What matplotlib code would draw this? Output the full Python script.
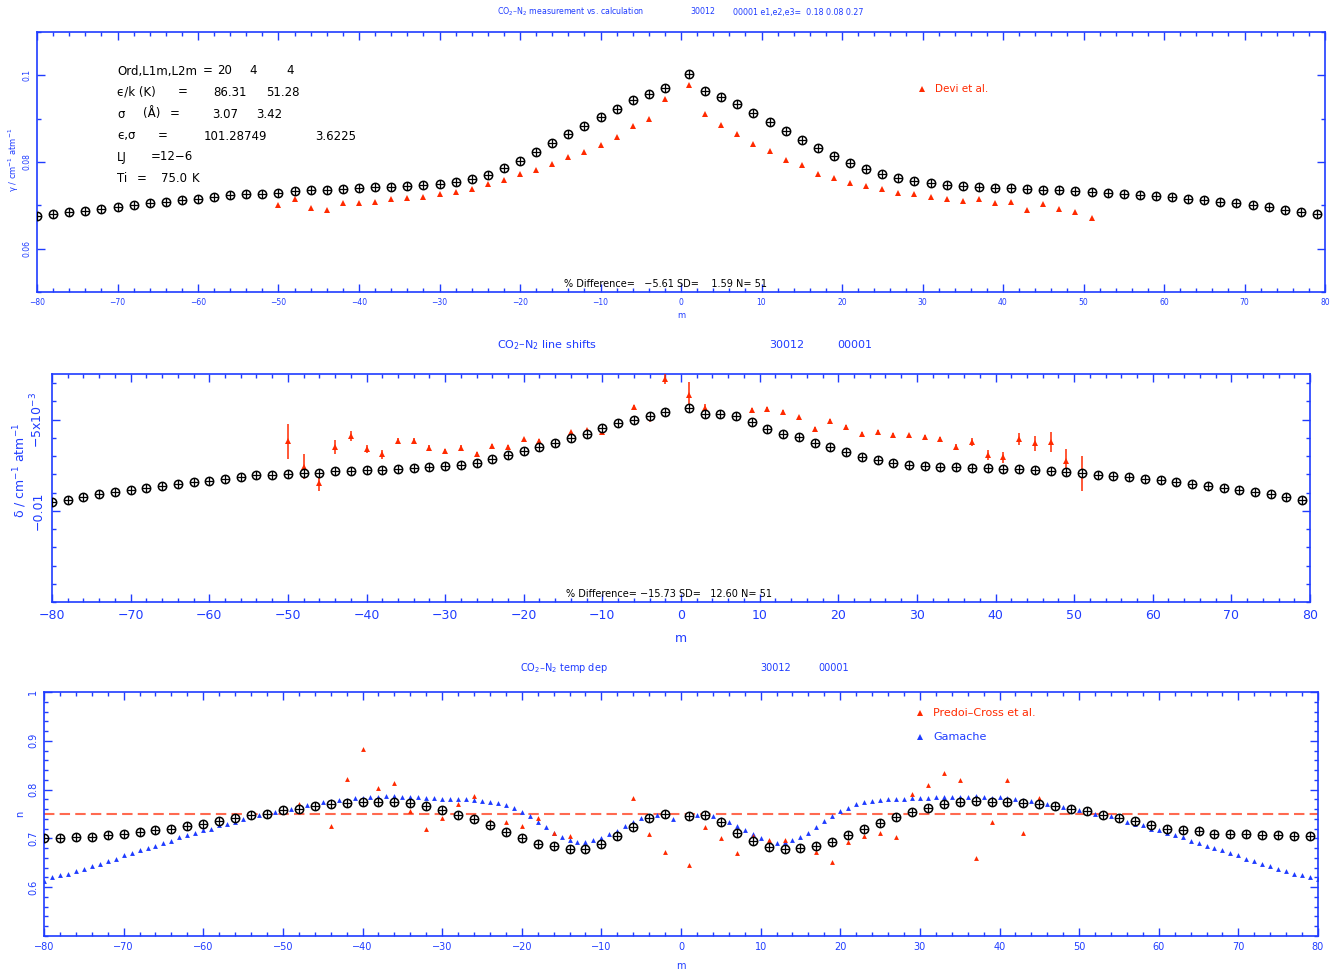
import matplotlib
matplotlib.use("Agg")
import matplotlib.pyplot as plt
from matplotlib.ticker import MultipleLocator, FixedLocator, FuncFormatter
import numpy as np

# rotational index m: P branch even (-80..-2), R branch odd (1..79)
m_P = np.arange(-80, 0, 2)
m_R = np.arange(1, 80, 2)
m_calc = np.concatenate([m_P, m_R])
m_meas = np.concatenate([np.arange(-50, 0, 2), np.arange(1, 52, 2)])
m_gam = np.concatenate([np.arange(-80, 0), np.arange(1, 81)])

### 1. widths (gamma)
gamma_calc = [
    0.06755, 0.06795, 0.06841, 0.06871, 0.06910, 0.06963, 0.07009, 0.07048, 0.07088, 0.07118,
    0.07148, 0.07194, 0.07233, 0.07256, 0.07272, 0.07295, 0.07325, 0.07348, 0.07364, 0.07378,
    0.07401, 0.07424, 0.07434, 0.07441, 0.07464, 0.07498, 0.07544, 0.07614, 0.07706, 0.07856,
    0.08017, 0.08225, 0.08433, 0.08640, 0.08825, 0.09039, 0.09233, 0.09424, 0.09563, 0.09708,
    0.10040, 0.09632, 0.09501, 0.09332, 0.09131, 0.08924, 0.08716, 0.08518, 0.08333, 0.08140,
    0.07978, 0.07840, 0.07734, 0.07632, 0.07563, 0.07517, 0.07480, 0.07448, 0.07424, 0.07401,
    0.07394, 0.07378, 0.07364, 0.07348, 0.07325, 0.07302, 0.07279, 0.07256, 0.07233, 0.07210,
    0.07187, 0.07152, 0.07118, 0.07083, 0.07048, 0.07002, 0.06956, 0.06898, 0.06841, 0.06795]
gamma_devi = [
    0.07018, 0.07157, 0.06940, 0.06887, 0.07055, 0.07055, 0.07078, 0.07157, 0.07164, 0.07187,
    0.07256, 0.07302, 0.07371, 0.07487, 0.07579, 0.07717, 0.07810, 0.07948, 0.08110, 0.08225,
    0.08386, 0.08578, 0.08841, 0.09002, 0.09464,
    0.09770, 0.09102, 0.08848, 0.08656, 0.08416, 0.08264, 0.08057, 0.07925, 0.07734, 0.07632,
    0.07526, 0.07448, 0.07371, 0.07286, 0.07256, 0.07187, 0.07148, 0.07111, 0.07148, 0.07055,
    0.07071, 0.06887, 0.07025, 0.06910, 0.06841, 0.06702]

### 2. shifts (delta)
delta_calc = [
    -0.00951, -0.00940, -0.00924, -0.00910, -0.00898, -0.00887, -0.00877, -0.00865, -0.00852, -0.00843,
    -0.00834, -0.00825, -0.00815, -0.00804, -0.00801, -0.00797, -0.00793, -0.00792, -0.00784, -0.00781,
    -0.00775, -0.00775, -0.00772, -0.00764, -0.00759, -0.00753, -0.00748, -0.00739, -0.00718, -0.00696,
    -0.00671, -0.00651, -0.00630, -0.00600, -0.00579, -0.00548, -0.00521, -0.00503, -0.00481, -0.00457,
    -0.00438, -0.00468, -0.00470, -0.00482, -0.00512, -0.00550, -0.00578, -0.00596, -0.00630, -0.00652,
    -0.00677, -0.00706, -0.00724, -0.00740, -0.00748, -0.00757, -0.00759, -0.00762, -0.00764, -0.00768,
    -0.00770, -0.00773, -0.00777, -0.00781, -0.00790, -0.00795, -0.00801, -0.00807, -0.00815, -0.00824,
    -0.00832, -0.00843, -0.00851, -0.00862, -0.00873, -0.00884, -0.00895, -0.00909, -0.00925, -0.00942]
delta_meas = [
    -0.00618, -0.00759, -0.00850, -0.00649, -0.00589, -0.00662, -0.00691, -0.00616, -0.00616, -0.00655,
    -0.00674, -0.00656, -0.00691, -0.00647, -0.00649, -0.00607, -0.00616, -0.00627, -0.00568, -0.00559,
    -0.00570, -0.00517, -0.00433, -0.00488, -0.00277,
    -0.00365, -0.00438, -0.00470, -0.00484, -0.00448, -0.00442, -0.00460, -0.00488, -0.00552, -0.00506,
    -0.00539, -0.00579, -0.00568, -0.00583, -0.00587, -0.00597, -0.00608, -0.00649, -0.00622, -0.00695,
    -0.00707, -0.00607, -0.00630, -0.00622, -0.00726, -0.00795]
delta_err = [
    0.00096, 0.00068, 0.00040, 0.00037, 0.00026, 0.00022, 0.00026, 0.00015, 0.00014, 0.00015,
    0.00011, 0.00015, 0.00011, 0.00011, 0.00011, 0.00008, 0.00008, 0.00008, 0.00008, 0.00008,
    0.00008, 0.00008, 0.00011, 0.00025, 0.00030,
    0.00070, 0.00022, 0.00010, 0.00010, 0.00010, 0.00010, 0.00010, 0.00010, 0.00010, 0.00010,
    0.00010, 0.00010, 0.00010, 0.00010, 0.00010, 0.00010, 0.00014, 0.00014, 0.00020, 0.00027,
    0.00032, 0.00034, 0.00041, 0.00053, 0.00066, 0.00095]

### 3. temperature exponent (n)
n_calc = [
    0.700, 0.700, 0.703, 0.703, 0.706, 0.710, 0.714, 0.717, 0.720, 0.725,
    0.730, 0.736, 0.742, 0.747, 0.751, 0.758, 0.761, 0.767, 0.771, 0.773,
    0.775, 0.775, 0.775, 0.773, 0.766, 0.759, 0.747, 0.739, 0.727, 0.714,
    0.701, 0.689, 0.684, 0.679, 0.679, 0.688, 0.705, 0.724, 0.742, 0.749,
    0.746, 0.747, 0.733, 0.712, 0.694, 0.683, 0.678, 0.680, 0.684, 0.693,
    0.706, 0.720, 0.732, 0.743, 0.754, 0.762, 0.770, 0.774, 0.776, 0.774,
    0.774, 0.773, 0.771, 0.766, 0.760, 0.756, 0.747, 0.741, 0.735, 0.727,
    0.720, 0.718, 0.715, 0.710, 0.708, 0.708, 0.706, 0.706, 0.704, 0.704]
n_predoi = [
    0.760, 0.771, 0.770, 0.725, 0.821, 0.884, 0.804, 0.814, 0.756, 0.719,
    0.742, 0.770, 0.786, 0.735, 0.734, 0.725, 0.741, 0.711, 0.704, 0.680,
    0.690, 0.700, 0.783, 0.708, 0.672,
    0.645, 0.723, 0.701, 0.670, 0.704, 0.696, 0.696, 0.679, 0.672, 0.652,
    0.693, 0.704, 0.712, 0.702, 0.792, 0.809, 0.834, 0.819, 0.659, 0.734,
    0.820, 0.711, 0.782, 0.768, 0.762, 0.758]
n_gamache = [
    0.613, 0.621, 0.624, 0.628, 0.633, 0.637, 0.644, 0.648, 0.654, 0.658,
    0.665, 0.671, 0.676, 0.680, 0.684, 0.691, 0.695, 0.702, 0.706, 0.711,
    0.717, 0.720, 0.727, 0.730, 0.734, 0.740, 0.745, 0.748, 0.752, 0.754,
    0.757, 0.761, 0.766, 0.769, 0.771, 0.775, 0.776, 0.778, 0.779, 0.782,
    0.783, 0.784, 0.785, 0.787, 0.786, 0.785, 0.785, 0.784, 0.783, 0.782,
    0.781, 0.780, 0.780, 0.780, 0.779, 0.777, 0.775, 0.773, 0.769, 0.762,
    0.754, 0.745, 0.734, 0.723, 0.712, 0.703, 0.697, 0.693, 0.693, 0.696,
    0.701, 0.708, 0.716, 0.725, 0.733, 0.741, 0.745, 0.747, 0.745, 0.739,
    0.747, 0.747, 0.746, 0.745, 0.740, 0.734, 0.726, 0.717, 0.708, 0.701,
    0.695, 0.691, 0.693, 0.696, 0.703, 0.711, 0.723, 0.736, 0.745, 0.756,
    0.763, 0.770, 0.775, 0.777, 0.778, 0.780, 0.780, 0.780, 0.783, 0.782,
    0.783, 0.784, 0.785, 0.784, 0.785, 0.784, 0.786, 0.785, 0.783, 0.785,
    0.783, 0.780, 0.778, 0.777, 0.775, 0.770, 0.767, 0.764, 0.761, 0.759,
    0.756, 0.751, 0.748, 0.745, 0.740, 0.734, 0.730, 0.727, 0.720, 0.717,
    0.711, 0.706, 0.702, 0.695, 0.691, 0.684, 0.680, 0.676, 0.671, 0.665,
    0.658, 0.654, 0.648, 0.644, 0.637, 0.633, 0.628, 0.624, 0.621, 0.616]
n_ref = 0.75

# fit parameter block, one list of (x pixel, token) per line
fit_lines = [
    [(117, "Ord,L1m,L2m"), (203, "="), (217, "20"), (249, "4"), (286, "4")],
    [(117, "\u03f5/k (K)"), (178, "="), (213, "86.31"), (266, "51.28")],
    [(117, "\u03c3"), (143, "(\u00c5)"), (170, "="), (212, "3.07"), (256, "3.42")],
    [(117, "\u03f5,\u03c3"), (158, "="), (204, "101.28749"), (315, "3.6225")],
    [(117, "LJ"), (151, "=12\u22126")],
    [(117, "Ti"), (137, "="), (161, "75.0"), (192, "K")],
]
fit_y = [71, 92, 114, 136, 157, 179]

BLUE = "#1f3cff"
RED = "#ff2a00"
W, H = 1331, 973

fig = plt.figure(figsize=(W / 100, H / 100), dpi=100)


def box(l, t, r, b):
    return [l / W, 1 - b / H, (r - l) / W, (b - t) / H]


def ftext(x, y, s, **kw):
    fig.text(x / W, 1 - y / H, s, **kw)


def style(ax, ymaj, ymin, fs, pad):
    ax.set_xlim(-80, 80)
    ax.xaxis.set_major_locator(MultipleLocator(10))
    ax.xaxis.set_minor_locator(MultipleLocator(2))
    ax.yaxis.set_major_locator(FixedLocator(ymaj))
    ax.yaxis.set_minor_locator(MultipleLocator(ymin))
    for s in ax.spines.values():
        s.set_color(BLUE)
        s.set_linewidth(1.2)
    ax.tick_params(which="both", direction="in", colors=BLUE, top=True, right=True,
                   labelsize=fs, width=1)
    ax.tick_params(which="major", length=6)
    ax.tick_params(which="minor", length=3)
    ax.tick_params(axis="y", pad=pad)


def rotate_y(ax):
    for lab in ax.get_yticklabels():
        lab.set_rotation(90)
        lab.set_va("center")


def calc_marks(ax, x, y):
    ax.plot(x, y, "o", mfc="white", mec="k", ms=6, mew=1.1, zorder=4)
    ax.plot(x, y, "+", color="k", ms=6, mew=0.9, zorder=5)


# ---------- top: widths ----------
ax1 = fig.add_axes(box(37, 32, 1325, 292))
ax1.plot(m_meas, gamma_devi, "^", color=RED, ms=4, mew=0, zorder=3)
calc_marks(ax1, m_calc, gamma_calc)
ax1.set_ylim(0.05, 0.11)
style(ax1, [0.06, 0.08, 0.1], 0.01, 5.5, 4)
ax1.yaxis.set_major_formatter(FuncFormatter(lambda v, p: f"{v:g}"))
ax1.tick_params(axis="x", pad=4)
rotate_y(ax1)
for yy, line in zip(fit_y, fit_lines):
    for xx, tok in line:
        ax1.text((xx - 37) / 1288, (292 - yy) / 260, tok, transform=ax1.transAxes,
                 fontsize=8.5, va="center", ha="left", color="k")
ax1.plot([0.687], [0.781], "^", color=RED, ms=4, mew=0, transform=ax1.transAxes)
ax1.text(0.697, 0.781, "Devi et al.", transform=ax1.transAxes, color=RED, fontsize=7.5,
         va="center")
ax1.text(0.4876, 0.031, "% Difference=   \u22125.61 SD=    1.59 N= 51",
         transform=ax1.transAxes, fontsize=7, ha="center", va="center")
ftext(497, 12, "CO$_2$\u2013N$_2$ measurement vs. calculation", color=BLUE, fontsize=5.7,
      va="center")
ftext(690, 12, "30012", color=BLUE, fontsize=5.7, va="center")
ftext(733, 12, "00001 e1,e2,e3=  0.18 0.08 0.27", color=BLUE, fontsize=5.7, va="center")
ftext(681, 316, "m", color=BLUE, fontsize=6, ha="center", va="center")
ftext(14, 160, "\u03b3 / cm$^{-1}$ atm$^{-1}$", color=BLUE, fontsize=6, rotation=90,
      ha="center", va="center")

# ---------- middle: shifts ----------
ax2 = fig.add_axes(box(52, 374, 1310, 602))
ax2.errorbar(m_meas, delta_meas, yerr=delta_err, fmt="^", color=RED, ms=4.5, mew=0,
             elinewidth=1.1, capsize=2, capthick=1, zorder=3)
calc_marks(ax2, m_calc, delta_calc)
ax2.set_ylim(-0.015, -0.0025)
style(ax2, [-0.01, -0.005], 0.001, 9, 5)
ax2.yaxis.set_major_formatter(FuncFormatter(
    lambda v, p: "\u22125x10$^{-3}$" if abs(v + 0.005) < 1e-6 else "\u22120.01"))
ax2.tick_params(axis="x", pad=5)
rotate_y(ax2)
ax2.text(0.4905, 0.035, "% Difference= \u221215.73 SD=   12.60 N= 51",
         transform=ax2.transAxes, fontsize=7, ha="center", va="center")
ftext(497, 345, "CO$_2$\u2013N$_2$ line shifts", color=BLUE, fontsize=8, va="center")
ftext(769, 345, "30012", color=BLUE, fontsize=8, va="center")
ftext(837, 345, "00001", color=BLUE, fontsize=8, va="center")
ftext(681, 638, "m", color=BLUE, fontsize=9, ha="center", va="center")
ftext(20, 470, "\u03b4 / cm$^{-1}$ atm$^{-1}$", color=BLUE, fontsize=9, rotation=90,
      ha="center", va="center")

# ---------- bottom: temperature dependence ----------
ax3 = fig.add_axes(box(44, 692, 1318, 936))
ax3.axhline(n_ref, color="#ff6a50", lw=1.5, dashes=(5, 2.5), zorder=2)
ax3.plot(m_gam, n_gamache, "^", color=BLUE, ms=3.5, mew=0, zorder=3)
ax3.plot(m_meas, n_predoi, "^", color=RED, ms=3.5, mew=0, zorder=3)
calc_marks(ax3, m_calc, n_calc)
ax3.set_ylim(0.5, 1.0)
style(ax3, [0.6, 0.7, 0.8, 0.9, 1.0], 0.02, 7, 4)
ax3.yaxis.set_major_formatter(FuncFormatter(lambda v, p: f"{v:g}"))
ax3.tick_params(axis="x", pad=4)
rotate_y(ax3)
ax3.plot([0.6876], [0.914], "^", color=RED, ms=4, mew=0, transform=ax3.transAxes)
ax3.text(0.698, 0.914, "Predoi\u2013Cross et al.", transform=ax3.transAxes, color=RED,
         fontsize=8, va="center")
ax3.plot([0.6876], [0.816], "^", color=BLUE, ms=4, mew=0, transform=ax3.transAxes)
ax3.text(0.698, 0.816, "Gamache", transform=ax3.transAxes, color=BLUE, fontsize=8,
         va="center")
ftext(520, 668, "CO$_2$\u2013N$_2$ temp dep", color=BLUE, fontsize=7, va="center")
ftext(760, 668, "30012", color=BLUE, fontsize=7, va="center")
ftext(818, 668, "00001", color=BLUE, fontsize=7, va="center")
ftext(681, 966, "m", color=BLUE, fontsize=7, ha="center", va="center")
ftext(20, 814, "n", color=BLUE, fontsize=7, rotation=90, ha="center", va="center")

fig.savefig("out.png", dpi=100, facecolor="white")
